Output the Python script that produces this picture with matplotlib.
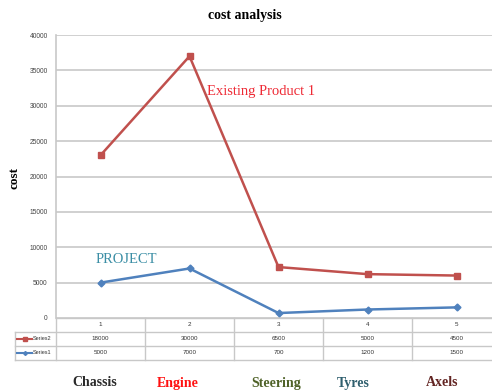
import matplotlib
matplotlib.use("Agg")
import matplotlib.pyplot as plt
from matplotlib.transforms import blended_transform_factory
from matplotlib.lines import Line2D

# data (stacked line: Series2 is drawn on top of Series1)
points = [1, 2, 3, 4, 5]
series1 = [5000, 7000, 700, 1200, 1500]
series2 = [18000, 30000, 6500, 5000, 4500]
parts = ["Chassis", "Engine", "Steering", "Tyres", "Axels"]
part_colors = ["#2a2a2a", "#ff1010", "#4f6228", "#2f5f6e", "#632523"]
yticks = [0, 5000, 10000, 15000, 20000, 25000, 30000, 35000, 40000]

RED = "#c0504d"
BLUE = "#4f81bd"
GRID = "#c8c8c8"
W, H = 492, 391

stacked = [a + b for a, b in zip(series1, series2)]

fig = plt.figure(figsize=(W / 100, H / 100), dpi=100)
fig.patch.set_facecolor("white")

# plot area: left edge at 56px, top 35px, bottom 318px; runs a little past the right edge
ax = fig.add_axes([56 / W, (H - 318) / H, (501 - 56) / W, (318 - 35) / H])
ax.set_xlim(0.5, 5.5)
ax.set_ylim(0, 40000)
ax.set_yticks(yticks)
ax.set_yticklabels([str(t) for t in yticks], fontsize=4.8, color="#444444",
                   family="Liberation Sans")
ax.tick_params(axis="y", length=0, pad=6)
ax.set_xticks([])
ax.yaxis.grid(True, color=GRID, lw=1.2)
ax.set_axisbelow(True)
for s in ["top", "right", "bottom"]:
    ax.spines[s].set_visible(False)
ax.spines["left"].set_color(GRID)
ax.spines["left"].set_linewidth(1.2)

ax.plot(points, stacked, color=RED, lw=1.8, marker="s", ms=4.5, clip_on=False)
ax.plot(points, series1, color=BLUE, lw=1.8, marker="D", ms=3.5, clip_on=False)

serif = "Liberation Serif"
fig.text(245 / W, 1 - 15 / H, "cost analysis", ha="center", va="center",
         fontsize=10, fontweight="bold", family=serif)
fig.text(15 / W, 1 - 178 / H, "cost", ha="center", va="center", rotation=90,
         fontsize=9.5, fontweight="bold", family=serif)
ax.text(2.2, 32000, "Existing Product 1", color="#ee2a35", fontsize=10.5,
        family=serif, va="center", ha="left")
ax.text(0.95, 8300, "PROJECT", color="#3b8ea5", fontsize=10.5,
        family=serif, va="center", ha="left")

# data table below the plot
tr = blended_transform_factory(ax.transData, fig.transFigure)
ft = fig.transFigure
def fy(py):
    return 1 - py / H

row_y = [318, 332, 346, 360]
for i, py in enumerate(row_y):
    x0 = 56 if i == 0 else 15
    fig.add_artist(Line2D([x0 / W, 501 / W], [fy(py), fy(py)], color=GRID, lw=1))
for k in range(6):
    x = k + 0.5
    fig.add_artist(Line2D([x, x], [fy(318), fy(360)], color=GRID, lw=1, transform=tr))
fig.add_artist(Line2D([15 / W, 15 / W], [fy(332), fy(360)], color=GRID, lw=1))

tbl_font = dict(fontsize=4.5, color="#333333", family="Liberation Sans",
                ha="center", va="center")
for p, a, b in zip(points, series2, series1):
    fig.text(p, fy(325), str(p), transform=tr, **tbl_font)
    fig.text(p, fy(339), str(a), transform=tr, **tbl_font)
    fig.text(p, fy(353), str(b), transform=tr, **tbl_font)

for py, col, mk, ms, name in [(339, RED, "s", 2.5, "Series2"), (353, BLUE, "D", 2, "Series1")]:
    fig.add_artist(Line2D([17 / W, 32 / W], [fy(py), fy(py)], color=col, lw=1.5,
                          transform=ft))
    fig.add_artist(Line2D([24.5 / W], [fy(py)], color=col, marker=mk, ms=ms, transform=ft))
    fig.text(33 / W, fy(py), name, fontsize=4, color="#333333",
             family="Liberation Sans", ha="left", va="center")

# component names under the table
label_shift = [-0.07, -0.13, -0.03, -0.16, -0.16]
for p, name, col, dx in zip(points, parts, part_colors, label_shift):
    fig.text(p + dx, fy(383), name, transform=tr, ha="center", va="center",
             fontsize=10, fontweight="bold", color=col, family=serif)

fig.savefig("out.png", dpi=100)
